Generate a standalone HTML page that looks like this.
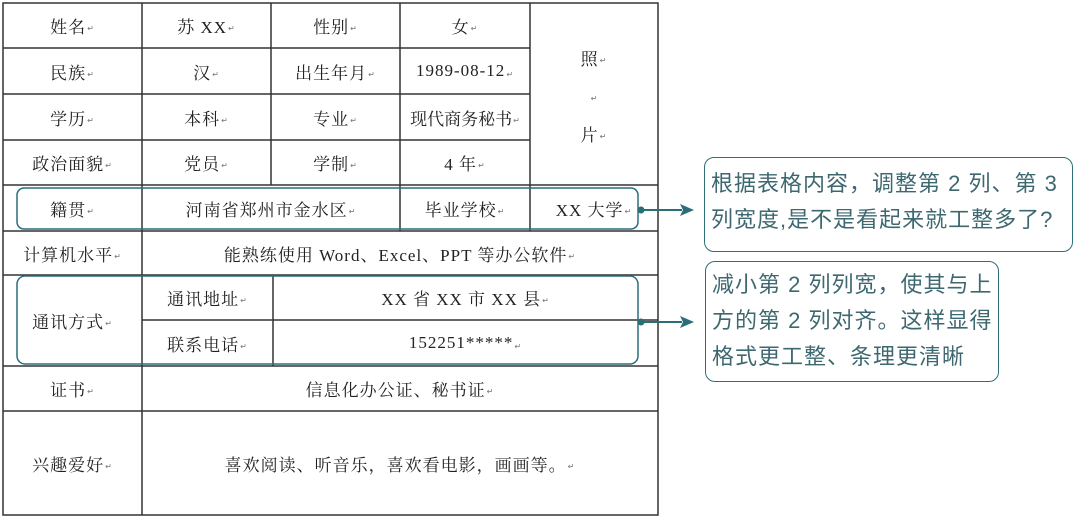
<!DOCTYPE html>
<html><head><meta charset="utf-8"><style>
html,body{margin:0;padding:0;background:#fff;width:1076px;height:519px;overflow:hidden;position:relative}
.t{position:absolute;display:flex;align-items:center;justify-content:center;font-family:"Liberation Serif","Noto Serif CJK SC",serif;font-size:17px;letter-spacing:1px;color:#222;white-space:nowrap}
.t i{font-style:normal;font-size:8px;color:#777;margin-left:1px;position:relative;top:3px}
.c{position:absolute;font-family:"Liberation Sans","Noto Sans CJK SC",sans-serif;font-size:22px;letter-spacing:1px;color:#3e6870;line-height:36px;border:1.5px solid #2f6f78;border-radius:10px;background:#fff;padding:0 6px;box-sizing:border-box;white-space:nowrap}
</style></head><body>
<svg width="1076" height="519" style="position:absolute;left:0;top:0">
<g stroke="#333" stroke-width="1.5" fill="none">
<rect x="3" y="3" width="655" height="512"/>
<line x1="3" y1="48" x2="530" y2="48"/>
<line x1="3" y1="94" x2="530" y2="94"/>
<line x1="3" y1="140" x2="530" y2="140"/>
<line x1="3" y1="185" x2="658" y2="185"/>
<line x1="3" y1="231" x2="658" y2="231"/>
<line x1="3" y1="275" x2="658" y2="275"/>
<line x1="142" y1="320" x2="658" y2="320"/>
<line x1="3" y1="366" x2="658" y2="366"/>
<line x1="3" y1="411" x2="658" y2="411"/>
<line x1="142" y1="3" x2="142" y2="515"/>
<line x1="271" y1="3" x2="271" y2="185"/>
<line x1="400" y1="3" x2="400" y2="231"/>
<line x1="530" y1="3" x2="530" y2="231"/>
<line x1="273" y1="275" x2="273" y2="366"/>
</g>
<g stroke="#2a6e78" stroke-width="1.5" fill="none">
<rect x="17" y="188" width="621" height="41" rx="7"/>
<rect x="17" y="276" width="621" height="88" rx="8"/>
<line x1="640" y1="210" x2="682" y2="210" stroke-width="2"/>
<line x1="640" y1="322" x2="682" y2="322" stroke-width="2"/>
</g>
<g fill="#2a6e78">
<circle cx="641" cy="210" r="3.5"/><circle cx="641" cy="322" r="3.5"/>
<polygon points="694,210 680,204 683,210 680,216"/>
<polygon points="694,322 680,316 683,322 680,328"/>
</g>
</svg>
<div class="t" style="left:3px;top:3px;width:139px;height:45px">姓名<i>↵</i></div>
<div class="t" style="left:142px;top:3px;width:129px;height:45px">苏 XX<i>↵</i></div>
<div class="t" style="left:271px;top:3px;width:129px;height:45px">性别<i>↵</i></div>
<div class="t" style="left:400px;top:3px;width:130px;height:45px">女<i>↵</i></div>
<div class="t" style="left:3px;top:48px;width:139px;height:46px">民族<i>↵</i></div>
<div class="t" style="left:142px;top:48px;width:129px;height:46px">汉<i>↵</i></div>
<div class="t" style="left:271px;top:48px;width:129px;height:46px">出生年月<i>↵</i></div>
<div class="t" style="left:400px;top:48px;width:130px;height:46px">1989-08-12<i>↵</i></div>
<div class="t" style="left:3px;top:94px;width:139px;height:46px">学历<i>↵</i></div>
<div class="t" style="left:142px;top:94px;width:129px;height:46px">本科<i>↵</i></div>
<div class="t" style="left:271px;top:94px;width:129px;height:46px">专业<i>↵</i></div>
<div class="t" style="left:400px;top:94px;width:130px;height:46px;letter-spacing:0">现代商务秘书<i>↵</i></div>
<div class="t" style="left:3px;top:140px;width:139px;height:45px">政治面貌<i>↵</i></div>
<div class="t" style="left:142px;top:140px;width:129px;height:45px">党员<i>↵</i></div>
<div class="t" style="left:271px;top:140px;width:129px;height:45px">学制<i>↵</i></div>
<div class="t" style="left:400px;top:140px;width:130px;height:45px">4 年<i>↵</i></div>
<div class="t" style="left:530px;top:45px;width:128px;height:24px">照<i>↵</i></div>
<div class="t" style="left:530px;top:83px;width:128px;height:24px"><i>↵</i></div>
<div class="t" style="left:530px;top:121px;width:128px;height:24px">片<i>↵</i></div>
<div class="t" style="left:3px;top:185px;width:139px;height:46px">籍贯<i>↵</i></div>
<div class="t" style="left:142px;top:185px;width:258px;height:46px">河南省郑州市金水区<i>↵</i></div>
<div class="t" style="left:400px;top:185px;width:130px;height:46px">毕业学校<i>↵</i></div>
<div class="t" style="left:530px;top:185px;width:128px;height:46px">XX 大学<i>↵</i></div>
<div class="t" style="left:3px;top:231px;width:139px;height:44px">计算机水平<i>↵</i></div>
<div class="t" style="left:142px;top:231px;width:516px;height:44px">能熟练使用 Word、Excel、PPT 等办公软件<i>↵</i></div>
<div class="t" style="left:3px;top:275px;width:139px;height:91px">通讯方式<i>↵</i></div>
<div class="t" style="left:142px;top:275px;width:131px;height:45px">通讯地址<i>↵</i></div>
<div class="t" style="left:273px;top:275px;width:385px;height:45px">XX 省 XX 市 XX 县<i>↵</i></div>
<div class="t" style="left:142px;top:320px;width:131px;height:46px">联系电话<i>↵</i></div>
<div class="t" style="left:273px;top:320px;width:385px;height:46px">152251*****<i>↵</i></div>
<div class="t" style="left:3px;top:366px;width:139px;height:45px">证书<i>↵</i></div>
<div class="t" style="left:142px;top:366px;width:516px;height:45px">信息化办公证、秘书证<i>↵</i></div>
<div class="t" style="left:3px;top:411px;width:139px;height:104px">兴趣爱好<i>↵</i></div>
<div class="t" style="left:142px;top:411px;width:516px;height:104px">喜欢阅读、听音乐，喜欢看电影，画画等。<i>↵</i></div>
<div class="c" style="left:704px;top:157px;width:369px;height:95px;padding-top:8px">根据表格内容，调整第 2 列、第 3<br>列宽度,是不是看起来就工整多了?</div>
<div class="c" style="left:705px;top:261px;width:294px;height:121px;padding-top:5px">减小第 2 列列宽，使其与上<br>方的第 2 列对齐。这样显得<br>格式更工整、条理更清晰</div>
</body></html>
